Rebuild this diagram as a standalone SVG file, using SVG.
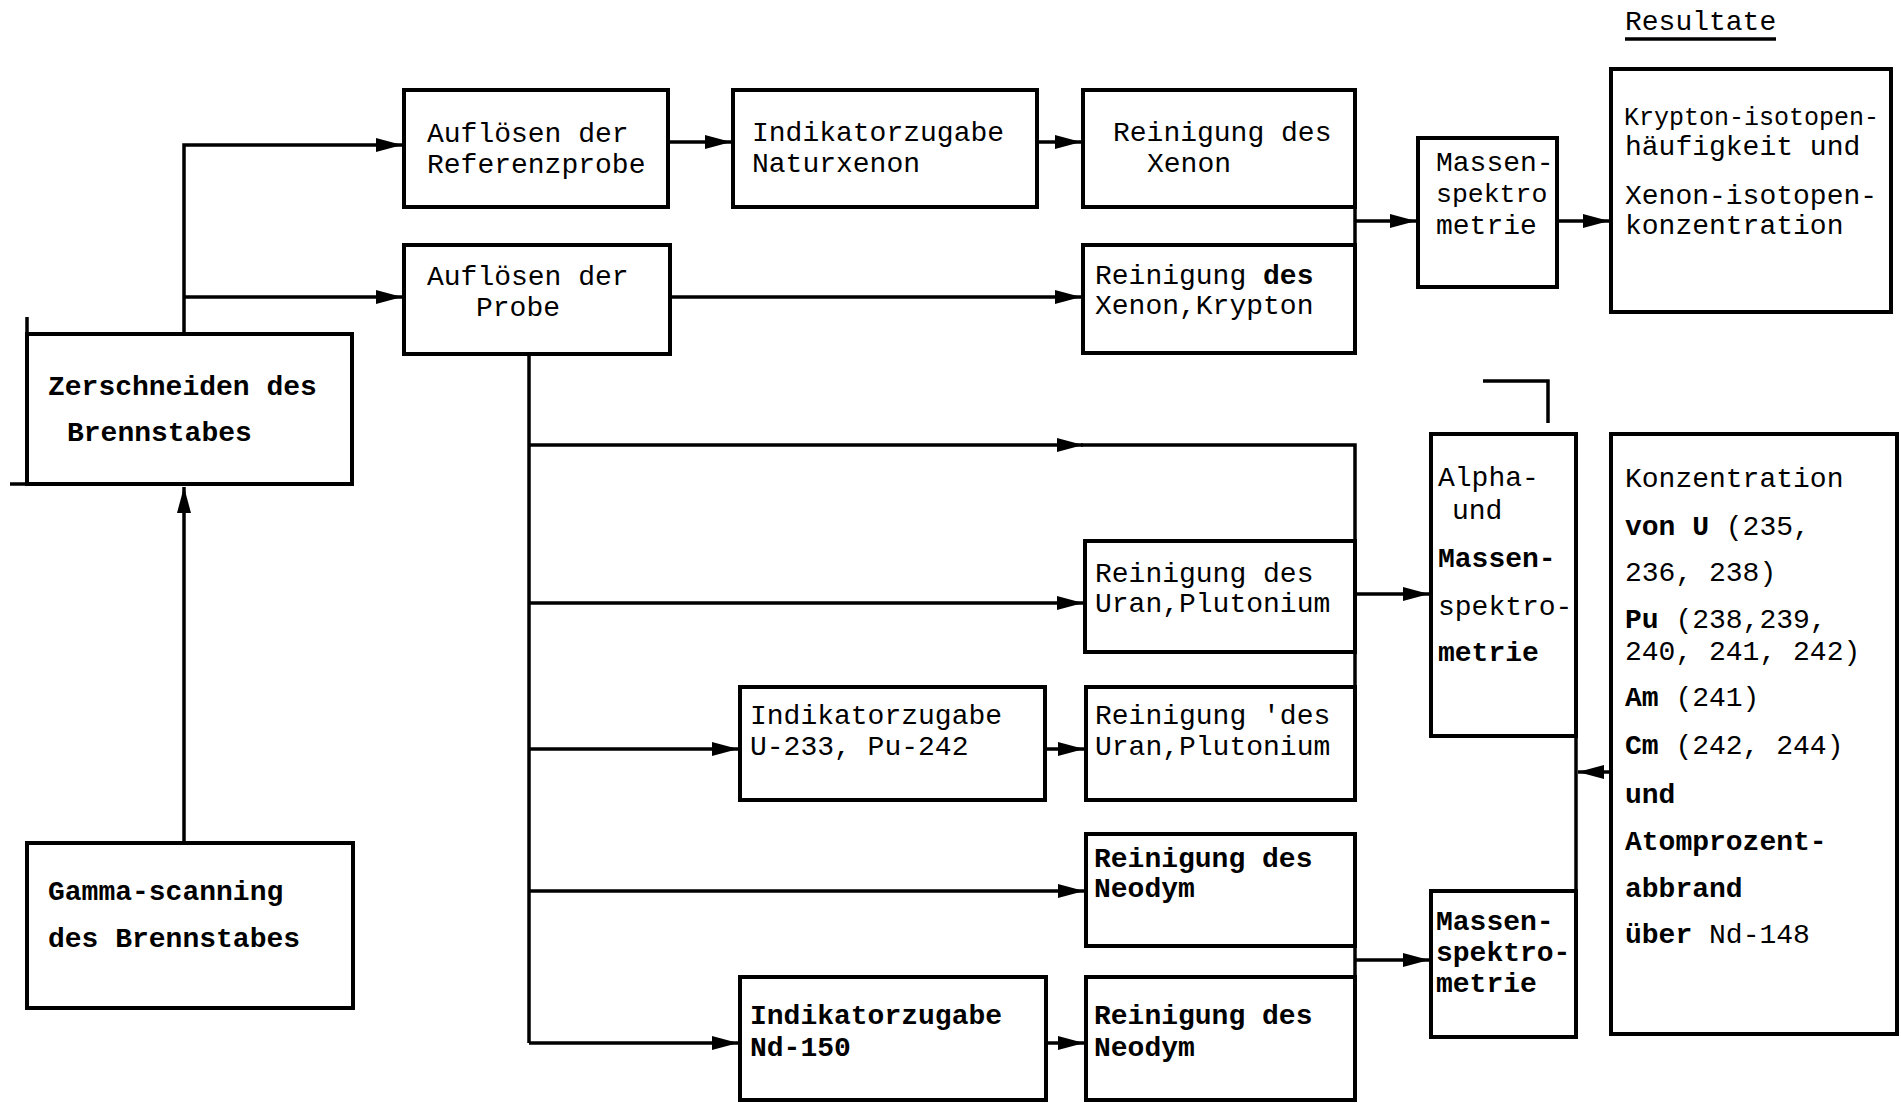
<svg xmlns="http://www.w3.org/2000/svg" width="1901" height="1103" viewBox="0 0 1901 1103">
<style>
.box{fill:none;stroke:#000;stroke-width:4}
.ln{fill:none;stroke:#000;stroke-width:3.5}
text{font-family:"Liberation Mono","DejaVu Sans Mono",monospace;font-size:28px;fill:#000}
.b{font-weight:bold}
.sm{font-size:25px}
.sm2{font-size:26.5px}
</style>
<defs>
<marker id="ah" markerUnits="userSpaceOnUse" markerWidth="28" markerHeight="16" refX="26" refY="8" orient="auto">
<path d="M0,1 L26,8 L0,15 Z" fill="#000"/>
</marker>
</defs>
<rect width="1901" height="1103" fill="#fff"/>

<g id="connectors">
<path class="ln" d="M184,843 V487" marker-end="url(#ah)"/>
<path class="ln" d="M184,336 V145 H402" marker-end="url(#ah)"/>
<path class="ln" d="M184,297 H402" marker-end="url(#ah)"/>
<path class="ln" d="M668,142 H731" marker-end="url(#ah)"/>
<path class="ln" d="M1037,142 H1081" marker-end="url(#ah)"/>
<path class="ln" d="M670,297 H1081" marker-end="url(#ah)"/>
<path class="ln" d="M1355,207 V245"/>
<path class="ln" d="M1355,221 H1416" marker-end="url(#ah)"/>
<path class="ln" d="M1557,221 H1609" marker-end="url(#ah)"/>
<path class="ln" d="M529,354 V1043"/>
<path class="ln" d="M529,445 H1083" marker-end="url(#ah)"/>
<path class="ln" d="M1081,445 H1355 V800"/>
<path class="ln" d="M529,603 H1083" marker-end="url(#ah)"/>
<path class="ln" d="M529,749 H738" marker-end="url(#ah)"/>
<path class="ln" d="M1045,749 H1084" marker-end="url(#ah)"/>
<path class="ln" d="M1355,594 H1429" marker-end="url(#ah)"/>
<path class="ln" d="M529,891 H1084" marker-end="url(#ah)"/>
<path class="ln" d="M529,1043 H738" marker-end="url(#ah)"/>
<path class="ln" d="M1046,1043 H1084" marker-end="url(#ah)"/>
<path class="ln" d="M1355,946 V977"/>
<path class="ln" d="M1355,960 H1429" marker-end="url(#ah)"/>
<path class="ln" d="M1576,736 V891"/>
<path class="ln" d="M1611,772 H1578" marker-end="url(#ah)"/>
<path class="ln" d="M1483,381 H1548 V423"/>
</g>

<g id="zerschneiden">
<rect class="box" x="27" y="334" width="325" height="150"/>
<path class="ln" d="M27,334 V317 M10,484 H27"/>
<text class="b" x="48" y="395">Zerschneiden des</text>
<text class="b" x="67" y="441">Brennstabes</text>
</g>

<g id="gamma">
<rect class="box" x="27" y="843" width="326" height="165"/>
<text class="b" x="48" y="900">Gamma-scanning</text>
<text class="b" x="48" y="947">des Brennstabes</text>
</g>

<g id="aufl-ref">
<rect class="box" x="404" y="90" width="264" height="117"/>
<text x="427" y="142">Auflösen der</text>
<text x="427" y="173">Referenzprobe</text>
</g>

<g id="aufl-probe">
<rect class="box" x="404" y="245" width="266" height="109"/>
<text x="427" y="285">Auflösen der</text>
<text x="476" y="316">Probe</text>
</g>

<g id="ind-xenon">
<rect class="box" x="733" y="90" width="304" height="117"/>
<text x="752" y="141">Indikatorzugabe</text>
<text x="752" y="172">Naturxenon</text>
</g>

<g id="rein-xenon">
<rect class="box" x="1083" y="90" width="272" height="117"/>
<text x="1113" y="141">Reinigung des</text>
<text x="1147" y="172">Xenon</text>
</g>

<g id="rein-xekr">
<rect class="box" x="1083" y="245" width="272" height="108"/>
<text x="1095" y="284">Reinigung <tspan class="b">des</tspan></text>
<text x="1095" y="314">Xenon,Krypton</text>
</g>

<g id="massen-top">
<rect class="box" x="1418" y="138" width="139" height="149"/>
<text x="1436" y="171">Massen-</text>
<text class="sm2" x="1436" y="202">spektro</text>
<text x="1436" y="234">metrie</text>
</g>

<g id="resultate">
<text x="1625" y="30">Resultate</text>
<path class="ln" d="M1625,39 H1776" stroke-width="2"/>
</g>

<g id="res-krypton">
<rect class="box" x="1611" y="69" width="280" height="243"/>
<text class="sm" x="1624" y="125">Krypton-isotopen-</text>
<text x="1625" y="155">häufigkeit und</text>
<text x="1625" y="204">Xenon-isotopen-</text>
<text x="1625" y="234">konzentration</text>
</g>

<g id="rein-upu1">
<rect class="box" x="1085" y="541" width="270" height="111"/>
<text x="1095" y="582">Reinigung des</text>
<text x="1095" y="612">Uran,Plutonium</text>
</g>

<g id="ind-upu">
<rect class="box" x="740" y="687" width="305" height="113"/>
<text x="750" y="724">Indikatorzugabe</text>
<text x="750" y="755">U-233, Pu-242</text>
</g>

<g id="rein-upu2">
<rect class="box" x="1086" y="687" width="269" height="113"/>
<text x="1095" y="724">Reinigung 'des</text>
<text x="1095" y="755">Uran,Plutonium</text>
</g>

<g id="rein-nd1">
<rect class="box" x="1086" y="834" width="269" height="112"/>
<text class="b" x="1094" y="867">Reinigung des</text>
<text class="b" x="1094" y="897">Neodym</text>
</g>

<g id="ind-nd">
<rect class="box" x="740" y="977" width="306" height="123"/>
<text class="b" x="750" y="1024">Indikatorzugabe</text>
<text class="b" x="750" y="1056">Nd-150</text>
</g>

<g id="rein-nd2">
<rect class="box" x="1086" y="977" width="269" height="123"/>
<text class="b" x="1094" y="1024">Reinigung des</text>
<text class="b" x="1094" y="1056">Neodym</text>
</g>

<g id="alpha">
<rect class="box" x="1431" y="434" width="145" height="302"/>
<text x="1438" y="486">Alpha-</text>
<text x="1452" y="519">und</text>
<text class="b" x="1438" y="567">Massen-</text>
<text x="1438" y="615">spektro-</text>
<text class="b" x="1438" y="661">metrie</text>
</g>

<g id="massen-bottom">
<rect class="box" x="1431" y="891" width="145" height="146"/>
<text class="b" x="1436" y="930">Massen-</text>
<text class="b" x="1436" y="961">spektro-</text>
<text class="b" x="1436" y="992">metrie</text>
</g>

<g id="res-konz">
<rect class="box" x="1611" y="434" width="286" height="600"/>
<text x="1625" y="487">Konzentration</text>
<text x="1625" y="535"><tspan class="b">von U</tspan> (235,</text>
<text x="1625" y="581">236, 238)</text>
<text x="1625" y="628"><tspan class="b">Pu</tspan> (238,239,</text>
<text x="1625" y="660">240, 241, 242)</text>
<text x="1625" y="706"><tspan class="b">Am</tspan> (241)</text>
<text x="1625" y="754"><tspan class="b">Cm</tspan> (242, 244)</text>
<text class="b" x="1625" y="803">und</text>
<text class="b" x="1625" y="850">Atomprozent-</text>
<text class="b" x="1625" y="897">abbrand</text>
<text x="1625" y="943"><tspan class="b">über</tspan> Nd-148</text>
</g>
</svg>
